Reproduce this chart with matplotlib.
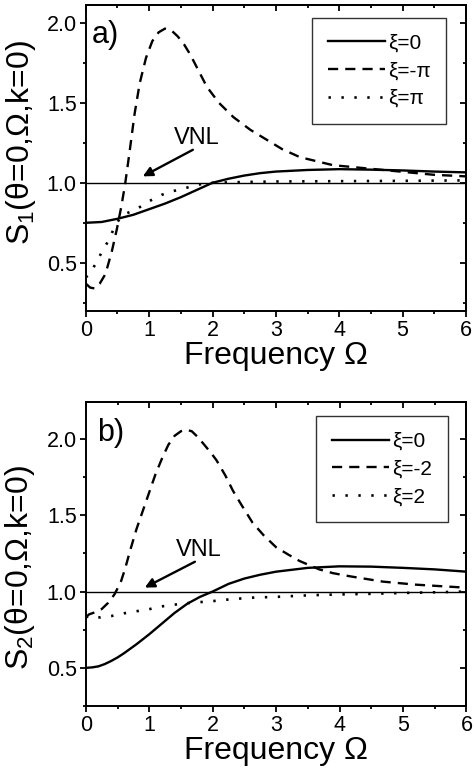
import matplotlib
matplotlib.use("Agg")
import matplotlib.pyplot as plt
from matplotlib.ticker import MultipleLocator

plt.rcParams['font.family'] = ['Liberation Sans', 'DejaVu Sans']
plt.rcParams['mathtext.fontset'] = 'custom'
plt.rcParams['mathtext.rm'] = 'Liberation Sans'
plt.rcParams['mathtext.it'] = 'Liberation Sans'
plt.rcParams['mathtext.default'] = 'regular'

# ---------------- Panel a) data ----------------
a_x_xi0 = [0, 0.25, 0.5, 0.75, 1.0, 1.25, 1.5, 1.75, 2.0, 2.25, 2.5, 2.75, 3.0, 3.5, 4.0, 4.5, 5.0, 5.5, 6.0]
a_y_xi0 = [0.75, 0.755, 0.775, 0.80, 0.835, 0.87, 0.91, 0.955, 1.0, 1.025, 1.045, 1.06, 1.07, 1.08, 1.085, 1.082, 1.077, 1.07, 1.065]

a_x_xim = [0, 0.07, 0.14, 0.22, 0.31, 0.41, 0.49, 0.56, 0.62, 0.69, 0.77, 0.85, 0.95, 1.05, 1.15, 1.25, 1.35,
           1.45, 1.55, 1.65, 1.78, 1.91, 2.1, 2.33, 2.6, 2.85, 3.1, 3.38, 3.9, 4.43, 4.96, 5.49, 6.0]
a_y_xim = [0.37, 0.345, 0.34, 0.37, 0.43, 0.57, 0.71, 0.85, 0.99, 1.19, 1.43, 1.62, 1.78, 1.885, 1.94, 1.963, 1.952,
           1.915, 1.865, 1.80, 1.70, 1.6, 1.5, 1.41, 1.33, 1.27, 1.21, 1.16, 1.11, 1.09, 1.07, 1.05, 1.04]

a_x_xip = [0, 0.05, 0.15, 0.25, 0.36, 0.45, 0.54, 0.65, 0.8, 1.0, 1.2, 1.4, 1.6, 1.8, 2.0, 2.5, 3.0, 4.0, 5.0, 6.0]
a_y_xip = [0.41, 0.425, 0.49, 0.565, 0.64, 0.72, 0.78, 0.81, 0.835, 0.885, 0.925, 0.95, 0.97, 0.99, 1.0, 1.005, 1.008, 1.01, 1.012, 1.015]

a_labels = ['ξ=0', 'ξ=-π', 'ξ=π']

# ---------------- Panel b) data ----------------
b_x_xi0 = [0, 0.1, 0.2, 0.3, 0.4, 0.5, 0.6, 0.8, 1.0, 1.2, 1.4, 1.6, 1.8, 2.0, 2.25, 2.5, 2.75, 3.0, 3.5, 4.0, 4.5, 5.0, 5.5, 6.0]
b_y_xi0 = [0.5, 0.503, 0.51, 0.525, 0.545, 0.568, 0.595, 0.655, 0.72, 0.79, 0.86, 0.92, 0.965, 1.0, 1.05, 1.085, 1.11, 1.13, 1.155, 1.165, 1.163, 1.155, 1.145, 1.13]

b_x_xim = [0, 0.05, 0.15, 0.25, 0.35, 0.45, 0.55, 0.62, 0.7, 0.8, 0.9, 1.0, 1.1, 1.2, 1.3, 1.4, 1.5, 1.58, 1.67,
           1.77, 1.87, 1.97, 2.06, 2.2, 2.32, 2.45, 2.63, 2.8, 3.0, 3.2, 3.37, 3.68, 3.9, 4.16, 4.68, 5.2, 5.6, 6.0]
b_y_xim = [0.83, 0.85, 0.865, 0.885, 0.925, 0.98, 1.06, 1.15, 1.27, 1.41, 1.53, 1.65, 1.77, 1.87, 1.96, 2.02, 2.05, 2.06, 2.05,
           2.01, 1.96, 1.91, 1.86, 1.76, 1.66, 1.57, 1.45, 1.37, 1.29, 1.24, 1.20, 1.145, 1.12, 1.10, 1.065, 1.045, 1.035, 1.025]

b_x_xip = [0, 0.05, 0.23, 0.41, 0.6, 0.78, 0.96, 1.15, 1.33, 1.51, 1.7, 1.95, 2.3, 2.63, 3.0, 3.5, 3.9, 4.5, 4.95, 5.5, 6.0]
b_y_xip = [0.83, 0.84, 0.83, 0.84, 0.857, 0.87, 0.88, 0.90, 0.91, 0.92, 0.928, 0.935, 0.95, 0.96, 0.965, 0.975, 0.98, 0.985, 0.99, 0.995, 1.0]

b_labels = ['ξ=0', 'ξ=-2', 'ξ=2']

FS_TICK = 15.5
FS_LAB = 23
FS_LEG = 15

fig = plt.figure(figsize=(4.74, 7.81), dpi=100)


def style_axes(ax, ylim):
    ax.set_xlim(0, 6)
    ax.set_ylim(*ylim)
    ax.xaxis.set_major_locator(MultipleLocator(1))
    ax.xaxis.set_minor_locator(MultipleLocator(0.5))
    ax.yaxis.set_major_locator(MultipleLocator(0.5))
    ax.yaxis.set_minor_locator(MultipleLocator(0.25))
    ax.yaxis.set_major_formatter(matplotlib.ticker.FormatStrFormatter('%.1f'))
    ax.tick_params(which='both', direction='out', width=1.3, labelsize=FS_TICK, pad=2)
    ax.tick_params(which='major', length=4.5)
    ax.tick_params(which='minor', length=2.5)
    for s in ax.spines.values():
        s.set_linewidth(1.4)
    # mirrored ticks pointing inward on top and right
    sx = ax.secondary_xaxis('top')
    sx.xaxis.set_major_locator(MultipleLocator(1))
    sx.xaxis.set_minor_locator(MultipleLocator(0.5))
    sx.tick_params(which='both', direction='in', width=1.3, labeltop=False)
    sx.tick_params(which='major', length=4.5)
    sx.tick_params(which='minor', length=2.5)
    sx.spines['top'].set_linewidth(1.4)
    sy = ax.secondary_yaxis('right')
    sy.yaxis.set_major_locator(MultipleLocator(0.5))
    sy.yaxis.set_minor_locator(MultipleLocator(0.25))
    sy.tick_params(which='both', direction='in', width=1.3, labelright=False)
    sy.tick_params(which='major', length=4.5)
    sy.tick_params(which='minor', length=2.5)
    sy.spines['right'].set_linewidth(1.4)
    ax.axhline(1.0, color='black', lw=1.0, zorder=1)
    ax.set_xlabel('Frequency Ω', fontsize=FS_LAB, labelpad=0)


def draw_curves(ax, xs, ys, labels):
    l1, = ax.plot(xs[0], ys[0], color='black', lw=1.7, ls='-', label=labels[0])
    l2, = ax.plot(xs[1], ys[1], color='black', lw=1.7, ls=(0, (4.3, 3.0)), label=labels[1])
    l3, = ax.plot(xs[2], ys[2], color='black', lw=1.9, ls=(0, (0.9, 4.0)), label=labels[2])
    return [l1, l2, l3]


def make_legend(ax, handles, anchor):
    leg = ax.legend(handles=handles, loc='upper left', bbox_to_anchor=anchor, fontsize=FS_LEG,
                    frameon=True, fancybox=False, edgecolor='black', handlelength=2.75,
                    handletextpad=0.15, borderpad=0.75, labelspacing=0.42, borderaxespad=0)
    leg.get_frame().set_linewidth(1.0)
    return leg


# ---------------- Panel a) ----------------
ax1 = fig.add_axes([0.181, 0.602, 0.802, 0.392])
style_axes(ax1, (0.2, 2.1125))
h = draw_curves(ax1, [a_x_xi0, a_x_xim, a_x_xip], [a_y_xi0, a_y_xim, a_y_xip], a_labels)
ax1.set_ylabel('S$_1$(θ=0,Ω,k=0)', fontsize=FS_LAB)
ax1.yaxis.set_label_coords(-0.125, 0.55)
make_legend(ax1, h, (0.595, 0.957))
ax1.text(0.016, 0.876, 'a)', transform=ax1.transAxes, fontsize=22, va='baseline', ha='left')
ax1.text(1.75, 1.28, 'VNL', fontsize=17, ha='center', va='center')
ax1.annotate('', xy=(0.9, 1.04), xytext=(1.69, 1.206),
             arrowprops=dict(arrowstyle='-|>', lw=1.7, color='black', mutation_scale=14, shrinkA=0, shrinkB=0))

# ---------------- Panel b) ----------------
ax2 = fig.add_axes([0.181, 0.096, 0.803, 0.389])
style_axes(ax2, (0.25, 2.24))
h = draw_curves(ax2, [b_x_xi0, b_x_xim, b_x_xip], [b_y_xi0, b_y_xim, b_y_xip], b_labels)
ax2.set_ylabel('S$_2$(θ=0,Ω,k=0)', fontsize=FS_LAB)
ax2.yaxis.set_label_coords(-0.128, 0.457)
make_legend(ax2, h, (0.606, 0.954))
ax2.text(0.029, 0.872, 'b)', transform=ax2.transAxes, fontsize=22, va='baseline', ha='left')
ax2.text(1.78, 1.27, 'VNL', fontsize=17, ha='center', va='center')
ax2.annotate('', xy=(0.93, 1.026), xytext=(1.72, 1.195),
             arrowprops=dict(arrowstyle='-|>', lw=1.7, color='black', mutation_scale=14, shrinkA=0, shrinkB=0))

fig.savefig('out.png', dpi=100)
